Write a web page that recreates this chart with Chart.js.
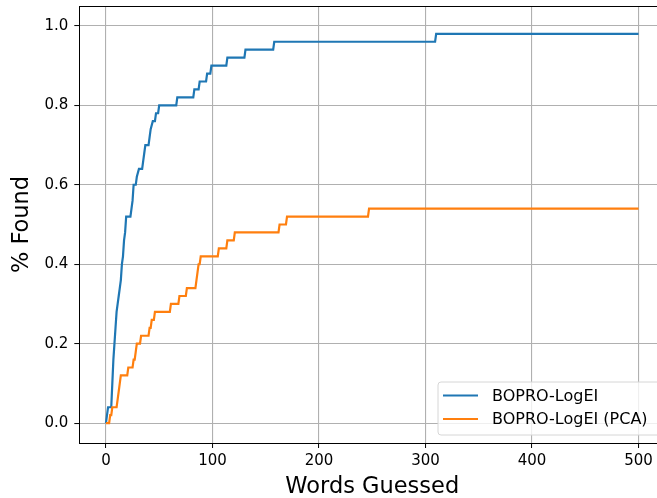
<!DOCTYPE html>
<html>
<head>
<meta charset="utf-8">
<script src="https://cdn.jsdelivr.net/npm/chart.js@4/dist/chart.umd.min.js"></script>
<style>
  html, body { margin: 0; padding: 0; background: #fff; overflow: hidden; }
  #wrap { width: 667px; height: 498px; }
</style>
</head>
<body>
<div id="wrap"><canvas id="foundChart" width="667" height="498"></canvas></div>
<script>
// words guessed vs fraction of targets found
const blueX = [0, 1, 2, 5, 6, 7, 8, 9, 10, 11, 12, 13, 14, 15, 16, 17, 18, 19, 23, 24, 25, 26, 28, 29, 31,
  34, 35, 36, 37, 40, 41, 42, 44, 46, 47, 49, 50, 66, 67, 82, 83, 87, 88, 94, 95, 98, 99, 113, 114,
  130, 131, 157, 158, 309, 310, 500];
const blueY = [0, 0.02, 0.04, 0.04, 0.1, 0.16, 0.2, 0.24, 0.28, 0.3, 0.32, 0.34, 0.36, 0.4, 0.42, 0.46, 0.48, 0.52,
  0.52, 0.54, 0.56, 0.6, 0.6, 0.62, 0.64, 0.64, 0.66, 0.68, 0.7, 0.7, 0.72, 0.74, 0.76, 0.76, 0.78, 0.78, 0.8,
  0.8, 0.82, 0.82, 0.84, 0.84, 0.86, 0.86, 0.88, 0.88, 0.9, 0.9, 0.92, 0.92, 0.94, 0.94, 0.96, 0.96, 0.98, 0.98];

const orangeX = [0, 3, 4, 5, 6, 10, 11, 12, 13, 14, 20, 21, 25, 26, 27, 28, 29, 32, 33, 40, 41, 42, 43, 45, 46,
  60, 61, 68, 69, 75, 76, 84, 85, 86, 87, 88, 89, 105, 106, 113, 114, 120, 121, 162, 163, 169, 170, 246, 247, 500];
const orangeY = [0, 0, 0.02, 0.02, 0.04, 0.04, 0.06, 0.08, 0.1, 0.12, 0.12, 0.14, 0.14, 0.16, 0.16, 0.18, 0.2,
  0.2, 0.22, 0.22, 0.24, 0.24, 0.26, 0.26, 0.28, 0.28, 0.3, 0.3, 0.32, 0.32, 0.34, 0.34, 0.36, 0.38, 0.4, 0.4,
  0.42, 0.42, 0.44, 0.44, 0.46, 0.46, 0.48, 0.48, 0.5, 0.5, 0.52, 0.52, 0.54, 0.54];

const seriesLabels = ['BOPRO-LogEI', 'BOPRO-LogEI (PCA)'];
const xTicks = [0, 100, 200, 300, 400, 500];
const yTicks = [0, 0.2, 0.4, 0.6, 0.8, 1.0];

const FONT = 'DejaVu Sans';
const BLUE = '#1f77b4';
const ORANGE = '#ff7f0e';

const toPoints = (xs, ys) => xs.map((x, i) => ({ x, y: ys[i] }));

// box around the plot plus the legend in the lower right corner
const framePlugin = {
  id: 'frame',
  afterDatasetsDraw(chart) {
    const { ctx, chartArea: a } = chart;
    ctx.save();
    ctx.strokeStyle = '#000';
    ctx.lineWidth = 1;
    ctx.strokeRect(Math.round(a.left) + 0.5, Math.round(a.top) + 0.5,
      Math.round(a.right - a.left), Math.round(a.bottom - a.top));

    // legend
    const bx = 438, by = 382, bw = 226, bh = 53, r = 3;
    ctx.beginPath();
    ctx.moveTo(bx + r, by);
    ctx.arcTo(bx + bw, by, bx + bw, by + bh, r);
    ctx.arcTo(bx + bw, by + bh, bx, by + bh, r);
    ctx.arcTo(bx, by + bh, bx, by, r);
    ctx.arcTo(bx, by, bx + bw, by, r);
    ctx.closePath();
    ctx.fillStyle = 'rgba(255,255,255,0.8)';
    ctx.fill();
    ctx.strokeStyle = '#d6d6d6';
    ctx.lineWidth = 1;
    ctx.stroke();

    ctx.font = '16px "' + FONT + '"';
    ctx.textBaseline = 'middle';
    ctx.fillStyle = '#000';
    chart.data.datasets.forEach((ds, i) => {
      const y = 395.5 + i * 23.5;
      ctx.strokeStyle = ds.borderColor;
      ctx.lineWidth = 2.2;
      ctx.beginPath();
      ctx.moveTo(443, y);
      ctx.lineTo(478, y);
      ctx.stroke();
      ctx.fillText(ds.label, 492, y + 1);
    });
    ctx.restore();
  }
};

new Chart(document.getElementById('foundChart'), {
  type: 'line',
  data: {
    datasets: [
      { label: seriesLabels[0], data: toPoints(blueX, blueY), borderColor: BLUE, order: 1 },
      { label: seriesLabels[1], data: toPoints(orangeX, orangeY), borderColor: ORANGE, order: 0 }
    ]
  },
  options: {
    responsive: false,
    animation: false,
    events: [],
    layout: { padding: { left: 0, top: 6, right: 1.8, bottom: 0 } },
    elements: {
      point: { radius: 0 },
      line: { borderWidth: 2.2, tension: 0, fill: false, borderJoinStyle: 'miter', borderCapStyle: 'butt' }
    },
    plugins: {
      legend: { display: false },
      tooltip: { enabled: false }
    },
    scales: {
      x: {
        type: 'linear',
        min: -25,
        max: 525,
        afterBuildTicks: s => { s.ticks = xTicks.map(v => ({ value: v })); },
        afterFit: s => { s.height = 55; s.paddingLeft = 0; s.paddingRight = 0; },
        grid: { color: '#b0b0b0', lineWidth: 1.1, tickColor: '#000', tickLength: 5, tickWidth: 1 },
        border: { color: '#000', width: 1 },
        ticks: {
          color: '#000',
          padding: 4,
          maxRotation: 0,
          font: { family: FONT, size: 15 },
          callback: v => String(v)
        },
        title: {
          display: true,
          text: 'Words Guessed',
          color: '#000',
          font: { family: FONT, size: 22.5, lineHeight: 1 },
          padding: { top: 0, bottom: 0 }
        }
      },
      y: {
        type: 'linear',
        min: -0.05,
        max: 1.05,
        afterBuildTicks: s => { s.ticks = yTicks.map(v => ({ value: v })); },
        afterFit: s => { s.width = 79.3; s.paddingTop = 0; s.paddingBottom = 0; },
        grid: { color: '#b0b0b0', lineWidth: 1.1, tickColor: '#000', tickLength: 5, tickWidth: 1 },
        border: { color: '#000', width: 1 },
        ticks: {
          color: '#000',
          padding: 6,
          font: { family: FONT, size: 15 },
          callback: v => v.toFixed(1)
        },
        title: {
          display: true,
          text: '% Found',
          color: '#000',
          font: { family: FONT, size: 22.5, lineHeight: 1 },
          padding: { top: 10.7, bottom: 0 }
        }
      }
    }
  },
  plugins: [framePlugin]
});
</script>
</body>
</html>
